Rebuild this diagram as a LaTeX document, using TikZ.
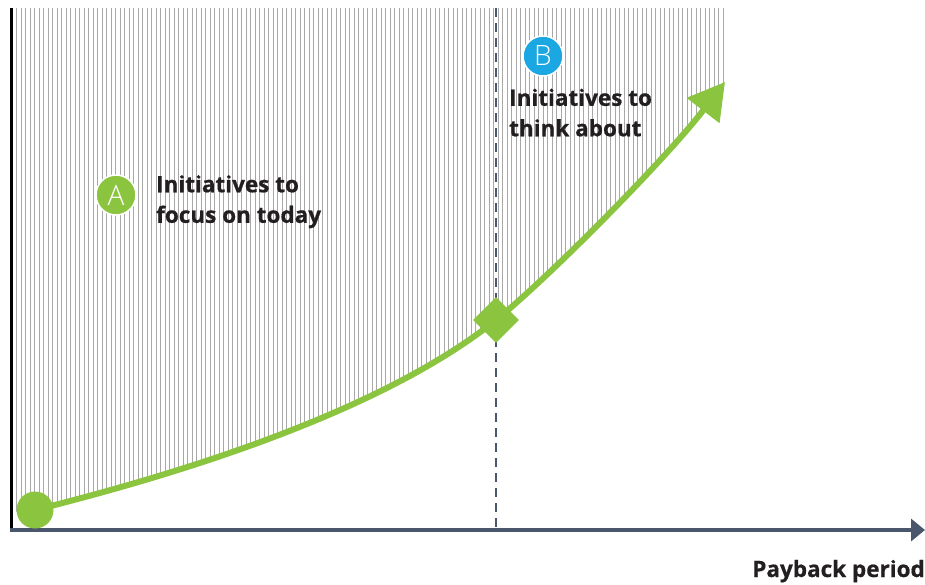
\documentclass[tikz,border=0pt]{standalone}
\usepackage{fontspec}
\setmainfont[BoldFeatures={FakeBold=0.6}]{Open Sans}
\newfontfamily\badgefont{Open Sans Light}
\usetikzlibrary{arrows.meta,shapes.geometric}
\definecolor{leafgreen}{HTML}{8BC53F}
\definecolor{skyblue}{HTML}{1BA7E1}
\definecolor{slate}{HTML}{4A566B}
\definecolor{ink}{HTML}{231F20}
\definecolor{hatchgray}{HTML}{A8A8A8}

\begin{document}
\begin{tikzpicture}[x=1pt,y=-1pt,
  label text/.style={font=\bfseries\fontsize{22.5}{30.5}\selectfont, text=ink,
    align=left, anchor=north west, inner sep=0pt},
  badge/.style={circle, draw=white, line width=1.5pt, minimum size=40pt,
    inner sep=0pt, text=white, font=\badgefont\fontsize{28}{28}\selectfont},
  growth/.style={leafgreen, line width=6pt},
  hatch/.style={hatchgray, line width=0.9pt},
  guide/.style={slate, line width=2.2pt, dash pattern=on 9pt off 6pt}]
\useasboundingbox (0,0) rectangle (925,584);

% key points
\coordinate (origin) at (11.5,530);
\coordinate (ytop) at (11.5,8);
\coordinate (xend) at (925,530);
\coordinate (dtop) at (496,8);
\coordinate (dbot) at (496,530);
\coordinate (p0) at (35,510);
\coordinate (pm) at (496,320);
\coordinate (tip) at (725,82);

% hatched area above the growth curve
\begin{scope}
  \clip (13,8) -- (725,8) -- (tip)
    .. controls (665,160) and (546,280) .. (pm)
    .. controls (386,408) and (195,470) .. (p0)
    -- (13,512) -- cycle;
  \foreach \x in {16.5,21,...,724} \draw[hatch] (\x,8) -- (\x,540);
\end{scope}

% dashed divider
\draw[guide] (dtop) -- (dbot);

% axes
\draw[black, line width=3pt] (ytop) -- ([yshift=-1.5pt]origin);
\draw[slate, line width=3.5pt, -{Triangle[length=14pt,width=22pt]}] ([xshift=-1.5pt]origin) -- (xend);

% growth curve
\draw[growth, -{Triangle[length=36pt,width=40pt]}] (p0)
  .. controls (195,470) and (386,408) .. (pm)
  .. controls (546,280) and (665,160) .. (tip);

\node[circle, fill=leafgreen, minimum size=37pt, inner sep=0pt] (start) at (p0) {};
\node[diamond, fill=leafgreen, minimum width=46pt, minimum height=46pt, inner sep=0pt] (gate) at (pm) {};

% badges and labels
\node[badge, fill=leafgreen] (badgeA) at (116,195) {A};
\node[badge, fill=skyblue] (badgeB) at (543,56) {B};
\node[label text] (focus) at (156,175) {Initiatives to\\focus on today};
\node[label text] (think) at (509,88.5) {Initiatives to\\think about};
\node[font=\bfseries\fontsize{22.5}{22.5}\selectfont, text=ink, anchor=base east, inner sep=0pt]
  (xlabel) at (925,577) {Payback period};
\end{tikzpicture}
\end{document}
